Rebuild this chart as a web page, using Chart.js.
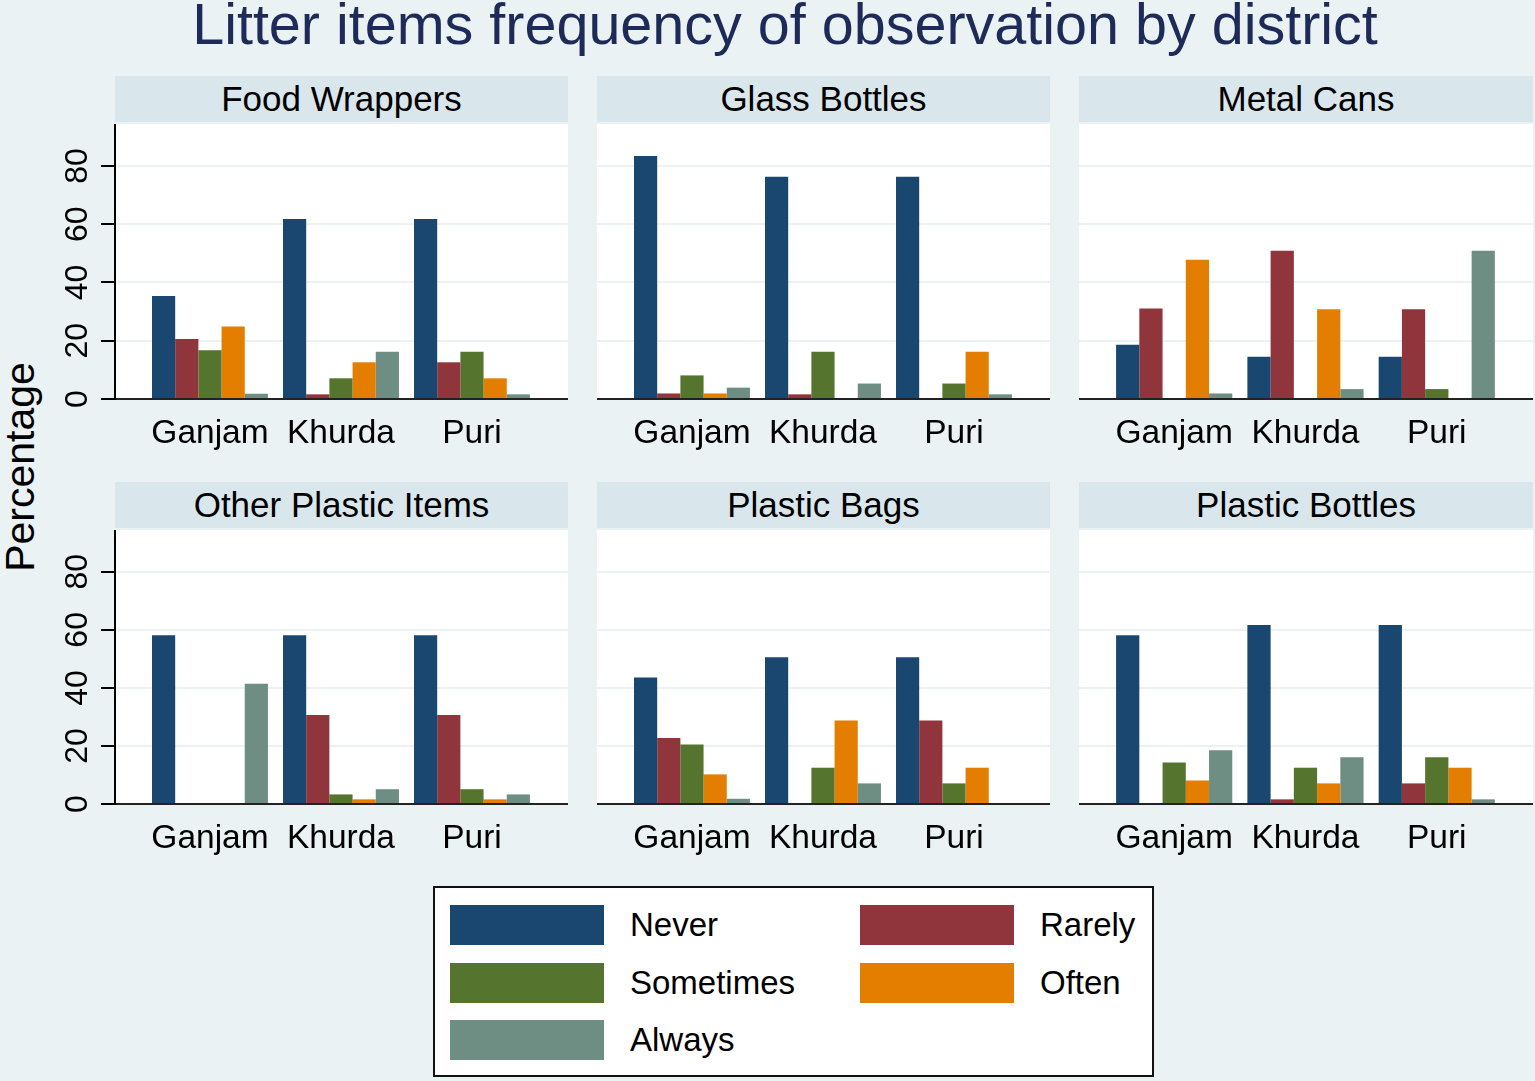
<!DOCTYPE html>
<html>
<head>
<meta charset="utf-8">
<script src="https://cdn.jsdelivr.net/npm/chart.js@4.4.1/dist/chart.umd.min.js"></script>
<style>
html,body{margin:0;padding:0;}
body{width:1535px;height:1081px;background:#eaf2f3;position:relative;overflow:hidden;font-family:"Liberation Sans",Arial,sans-serif;}
.abs{position:absolute;}
#title{left:0;top:-4px;width:1570px;text-align:center;font-size:57.5px;line-height:57px;color:#1e2b58;white-space:nowrap;}
.strip{background:#d9e6eb;font-size:35px;color:#000;text-align:center;line-height:46px;height:46px;white-space:nowrap;}
#ylab{left:-130px;top:445px;width:300px;height:44px;line-height:44px;text-align:center;font-size:41px;color:#000;transform:rotate(-90deg);}
#legend{left:433px;top:886px;width:717px;height:187px;border:2px solid #111;background:#fff;}
.sw{position:absolute;width:154px;height:40px;}
.lt{position:absolute;font-size:33px;line-height:40px;height:40px;color:#000;white-space:nowrap;}
</style>
</head>
<body>
<div id="title" class="abs">Litter items frequency of observation by district</div>
<div id="ylab" class="abs">Percentage</div>
<div id="legend" class="abs"></div>
<script>
// ---- data ----
const districts = ['Ganjam', 'Khurda', 'Puri'];
const items = ['Food Wrappers', 'Glass Bottles', 'Metal Cans', 'Other Plastic Items', 'Plastic Bags', 'Plastic Bottles'];
const seriesNames = ['Never', 'Rarely', 'Sometimes', 'Often', 'Always'];
const yTicks = [0, 20, 40, 60, 80];
// one row per item (panel), one value per district (percent)
const never     = [[35.4, 61.8, 61.8], [83.4, 76.3, 76.3], [18.6, 14.5, 14.5], [58.1, 58.1, 58.1], [43.6, 50.6, 50.6], [58.1, 61.7, 61.7]];
const rarely    = [[20.6, 1.6, 12.6], [1.9, 1.6, 0], [31.1, 50.9, 30.8], [0, 30.7, 30.7], [22.7, 0, 28.8], [0, 1.6, 7.1]];
const sometimes = [[16.7, 7.1, 16.2], [8.1, 16.2, 5.3], [0, 0, 3.4], [0, 3.3, 5.1], [20.5, 12.5, 7.1], [14.3, 12.5, 16.1]];
const often     = [[24.9, 12.6, 7.1], [1.9, 0, 16.2], [47.8, 30.8, 0], [0, 1.6, 1.6], [10.2, 28.8, 12.5], [8.1, 7.1, 12.5]];
const always    = [[1.8, 16.2, 1.6], [3.9, 5.3, 1.6], [1.9, 3.4, 50.9], [41.4, 5.1, 3.3], [1.8, 7.1, 0], [18.5, 16.1, 1.6]];

// ---- styles ----
const seriesValues = [never, rarely, sometimes, often, always];
const colors = ['#1a476f', '#90353b', '#55752f', '#e37e00', '#6e8e84'];
const FONT = '"Liberation Sans", Arial, sans-serif';
const plotLeft = [115, 597, 1079];
const plotRight = [568, 1050, 1533];
const stripTop = [76, 482];
const plotTop = [124, 530];
const plotBottom = [399, 804];
const yMax = 94.4;
const xMin = -0.725, xMax = 2.733;
const yAxisW = 75;
const xAxisH = 70;

// legend
const legend = document.getElementById('legend');
seriesNames.forEach((name, s) => {
  const col = s % 2, row = Math.floor(s / 2);
  const left = 15 + col * 410, top = 17 + row * 57.5;
  const sw = document.createElement('div');
  sw.className = 'sw';
  sw.style.left = left + 'px'; sw.style.top = top + 'px';
  sw.style.background = colors[s];
  legend.appendChild(sw);
  const t = document.createElement('div');
  t.className = 'lt';
  t.style.left = (left + 180) + 'px'; t.style.top = top + 'px';
  t.textContent = name;
  legend.appendChild(t);
});

const whiteBg = {
  id: 'whiteBg',
  beforeDraw(chart) {
    const a = chart.chartArea, ctx = chart.ctx;
    ctx.save();
    ctx.fillStyle = '#ffffff';
    ctx.fillRect(a.left, a.top, a.right - a.left, a.bottom - a.top);
    ctx.restore();
  }
};
const rotatedYLabels = {
  id: 'rotatedYLabels',
  afterDraw(chart, args, opts) {
    if (!opts.show) return;
    const sc = chart.scales.y, ctx = chart.ctx;
    ctx.save();
    ctx.fillStyle = '#000';
    ctx.font = '32px ' + FONT;
    ctx.textAlign = 'center';
    ctx.textBaseline = 'middle';
    sc.ticks.forEach(t => {
      if (!yTicks.includes(t.value)) return;
      const y = sc.getPixelForValue(t.value);
      ctx.save();
      ctx.translate(chart.chartArea.left - 37, y);
      ctx.rotate(-Math.PI / 2);
      ctx.fillText(String(t.value), 0, 0);
      ctx.restore();
    });
    ctx.restore();
  }
};

items.forEach((item, p) => {
  const r = Math.floor(p / 3), c = p % 3;
  const strip = document.createElement('div');
  strip.className = 'abs strip';
  strip.style.left = plotLeft[c] + 'px';
  strip.style.top = stripTop[r] + 'px';
  strip.style.width = (plotRight[c] - plotLeft[c]) + 'px';
  strip.textContent = item;
  document.body.appendChild(strip);

  const yw = c === 0 ? yAxisW : 0;
  const cv = document.createElement('canvas');
  const w = plotRight[c] - plotLeft[c] + yw;
  const h = plotBottom[r] - plotTop[r] + xAxisH;
  cv.width = w; cv.height = h;
  cv.className = 'abs';
  cv.style.left = (plotLeft[c] - yw) + 'px';
  cv.style.top = plotTop[r] + 'px';
  cv.style.width = w + 'px'; cv.style.height = h + 'px';
  document.body.appendChild(cv);

  const datasets = seriesValues.map((vals, s) => ({
    label: seriesNames[s],
    data: districts.map((d, i) => ({ x: i, y: vals[p][i] })),
    backgroundColor: colors[s],
    borderWidth: 0,
    categoryPercentage: 0.885,
    barPercentage: 1.0
  }));

  new Chart(cv, {
    type: 'bar',
    data: { datasets },
    plugins: [whiteBg, rotatedYLabels],
    options: {
      responsive: false,
      animation: false,
      layout: { padding: 0 },
      plugins: {
        legend: { display: false },
        tooltip: { enabled: false },
        rotatedYLabels: { show: c === 0 }
      },
      scales: {
        x: {
          type: 'linear',
          min: xMin, max: xMax,
          offset: false,
          grid: { display: false, drawTicks: false },
          border: { display: true, color: '#222', width: 2 },
          ticks: {
            stepSize: 1, includeBounds: false, autoSkip: false, maxRotation: 0, minRotation: 0,
            color: '#000', font: { size: 33.5, family: FONT }, padding: 15,
            callback: v => (Number.isInteger(v) && districts[v]) ? districts[v] : ''
          },
          afterFit: s => { s.height = xAxisH; }
        },
        y: {
          type: 'linear',
          position: 'left',
          min: 0, max: yMax,
          ticks: { display: false, stepSize: 20, includeBounds: false },
          grid: { color: '#eaf2f3', lineWidth: 2, tickColor: '#000', drawTicks: c === 0, tickLength: 14 },
          border: { display: c === 0, color: '#000', width: 2 },
          afterFit: s => { s.width = yw; }
        }
      }
    }
  });
});
</script>
</body>
</html>
